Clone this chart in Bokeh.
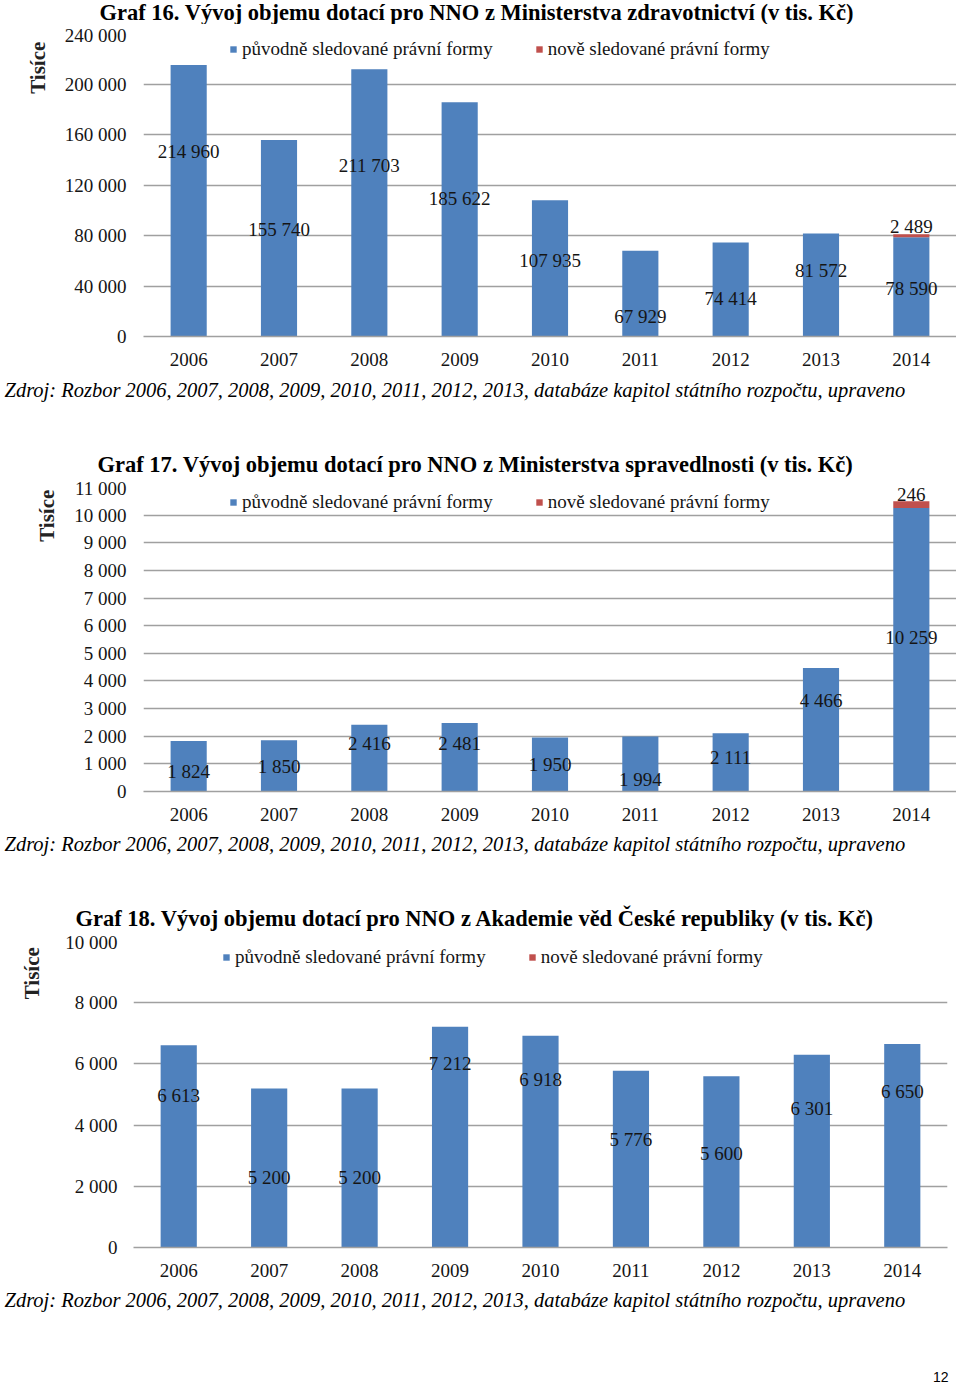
import math
from bokeh.plotting import figure
from bokeh.models import (ColumnDataSource, FactorRange, Range1d, FixedTicker,
                          Label, Legend, LegendItem)
from bokeh.layouts import column, row
from bokeh.core.properties import value
from bokeh.embed import file_html
from bokeh.resources import INLINE

# ---------------- data ----------------
years = ["2006", "2007", "2008", "2009", "2010", "2011", "2012", "2013", "2014"]
series_names = ["původně sledované právní formy", "nově sledované právní formy"]
source_note = ("Zdroj: Rozbor 2006, 2007, 2008, 2009, 2010, 2011, 2012, 2013, "
               "databáze kapitol státního rozpočtu, upraveno")
axis_title = "Tisíce"
page_number = "12"

title16 = "Graf 16. Vývoj objemu dotací pro NNO z Ministerstva zdravotnictví (v tis. Kč)"
orig16 = [214960, 155740, 211703, 185622, 107935, 67929, 74414, 81572, 78590]
new16 = [0, 0, 0, 0, 0, 0, 0, 0, 2489]
yticks16 = [0, 40000, 80000, 120000, 160000, 200000, 240000]
ytick_labels16 = ["0", "40 000", "80 000", "120 000", "160 000", "200 000", "240 000"]
# heights at which the data labels sit in the original picture (data units)
label_y16 = [146500, 84800, 135400, 109300, 60200, 15800, 30100, 52300, 38000]
new_label_y16 = [0, 0, 0, 0, 0, 0, 0, 0, 87100]

title17 = "Graf 17. Vývoj objemu dotací pro NNO z Ministerstva spravedlnosti (v tis. Kč)"
orig17 = [1824, 1850, 2416, 2481, 1950, 1994, 2111, 4466, 10259]
new17 = [0, 0, 0, 0, 0, 0, 0, 0, 246]
yticks17 = [0, 1000, 2000, 3000, 4000, 5000, 6000, 7000, 8000, 9000, 10000, 11000]
ytick_labels17 = ["0", "1 000", "2 000", "3 000", "4 000", "5 000", "6 000",
                  "7 000", "8 000", "9 000", "10 000", "11 000"]
label_y17 = [720, 920, 1730, 1730, 990, 450, 1225, 3310, 5580]
new_label_y17 = [0, 0, 0, 0, 0, 0, 0, 0, 10747]

title18 = "Graf 18. Vývoj objemu dotací pro NNO z  Akademie věd České republiky (v tis. Kč)"
orig18 = [6613, 5200, 5200, 7212, 6918, 5776, 5600, 6301, 6650]
new18 = [0, 0, 0, 0, 0, 0, 0, 0, 0]
yticks18 = [0, 2000, 4000, 6000, 8000, 10000]
ytick_labels18 = ["0", "2 000", "4 000", "6 000", "8 000", "10 000"]
label_y18 = [4967, 2297, 2297, 6003, 5480, 3520, 3062, 4533, 5098]
new_label_y18 = [0, 0, 0, 0, 0, 0, 0, 0, 0]

# ---------------- style ----------------
BLUE = "#4F81BD"
RED = "#C0504D"
GRID = "#a0a0a0"
TXT = "#151515"
SERIF = "Liberation Serif"
SANS = "Liberation Sans"
PAGE_W = 956
SIDE_W = 58


def fmt(v):
    return f"{v:,}".replace(",", " ")


def blank(width, height):
    p = figure(width=width, height=height, x_range=Range1d(0, width),
               y_range=Range1d(height, 0), x_axis_type=None, y_axis_type=None,
               min_border=0, toolbar_location=None, output_backend="svg",
               title_location=None)
    p.outline_line_color = None
    p.background_fill_color = "white"
    p.border_fill_color = "white"
    return p


def text_strip(top, bottom, texts):
    # texts: (page_x, page_middle_y, text, size, style, align, font)
    p = blank(PAGE_W, bottom - top)
    for (x, y, t, size, style, align, font) in texts:
        p.add_layout(Label(x=x, y=y - top, text=t, text_font=font,
                           text_font_size=size, text_font_style=style,
                           text_align=align, text_baseline="middle",
                           text_color="#000000"))
    return p


def side_strip(top, bottom, cx, cy):
    p = blank(SIDE_W, bottom - top)
    p.add_layout(Label(x=cx, y=cy - top, text=axis_title, text_font=SERIF,
                       text_font_size="21px", text_font_style="bold",
                       text_align="center", text_baseline="middle",
                       angle=math.pi / 2, text_color="#222222"))
    return p


def chart(orig, new, yticks, ytick_labels, label_y, new_label_y, g):
    fl, ft, fr, fb = g["fl"], g["ft"], g["fr"], g["fb"]
    p = figure(x_range=FactorRange(factors=years),
               y_range=Range1d(yticks[0], yticks[-1]),
               frame_width=fr - fl, frame_height=fb - ft,
               min_border_left=fl - SIDE_W, min_border_right=PAGE_W - fr,
               min_border_top=ft - g["top"], min_border_bottom=g["bottom"] - fb,
               toolbar_location=None, output_backend="svg", title_location=None)
    p.outline_line_color = None
    p.background_fill_color = "white"
    p.border_fill_color = "white"

    src = ColumnDataSource(dict(year=years, orig=orig, new=new,
                                top=[o + n for o, n in zip(orig, new)]))
    r1 = p.vbar(x="year", top="orig", bottom=0, width=0.4, source=src,
                fill_color=BLUE, line_color=None)
    r2 = p.vbar(x="year", bottom="orig", top="top", width=0.4, source=src,
                fill_color=RED, line_color=None)

    lab = ColumnDataSource(dict(year=years, y=label_y, text=[fmt(v) for v in orig]))
    p.text(x="year", y="y", text="text", source=lab, text_align="center",
           text_baseline="middle", text_font=value(SERIF), text_font_size="19px",
           text_color=TXT)
    idx = [i for i, n in enumerate(new) if n > 0]
    if idx:
        lab2 = ColumnDataSource(dict(year=[years[i] for i in idx],
                                     y=[new_label_y[i] for i in idx],
                                     text=[fmt(new[i]) for i in idx]))
        p.text(x="year", y="y", text="text", source=lab2, text_align="center",
               text_baseline="middle", text_font=value(SERIF), text_font_size="19px",
               text_color=TXT)

    p.xgrid.grid_line_color = None
    p.ygrid.ticker = FixedTicker(ticks=yticks)
    p.ygrid.grid_line_color = GRID
    p.ygrid.grid_line_width = 1.3
    ya = p.yaxis[0]
    ya.ticker = FixedTicker(ticks=yticks)
    ya.major_label_overrides = {t: s for t, s in zip(yticks, ytick_labels)}
    ya.axis_line_color = None
    ya.major_tick_line_color = None
    ya.minor_tick_line_color = None
    ya.major_tick_out = 0
    ya.major_tick_in = 0
    ya.major_label_standoff = g["ystand"]
    ya.major_label_text_font = SERIF
    ya.major_label_text_font_size = "19px"
    ya.major_label_text_color = TXT
    xa = p.xaxis[0]
    xa.axis_line_color = GRID
    xa.axis_line_width = 1.3
    xa.major_tick_line_color = None
    xa.minor_tick_line_color = None
    xa.major_tick_out = 0
    xa.major_tick_in = 0
    xa.major_label_standoff = 16
    xa.major_label_text_font = SERIF
    xa.major_label_text_font_size = "19px"
    xa.major_label_text_color = TXT

    leg = Legend(items=[LegendItem(label=series_names[0], renderers=[r1]),
                        LegendItem(label=series_names[1], renderers=[r2])],
                 orientation="horizontal",
                 location=(g["leg_x"] - fl, fb - (g["leg_y"] + 11)),
                 glyph_width=8, glyph_height=8, label_standoff=5, spacing=42,
                 padding=0, margin=0, border_line_color=None,
                 background_fill_alpha=0, label_height=18,
                 label_text_font=SERIF, label_text_font_size="19px",
                 label_text_color=TXT)
    p.add_layout(leg)
    return p


# layout geometry (page pixels)
g16 = dict(top=24, bottom=378, fl=143, ft=33, fr=956, fb=336, ystand=17, leg_x=229, leg_y=49)
g17 = dict(top=477, bottom=832, fl=143, ft=487, fr=956, fb=791, ystand=17, leg_x=229, leg_y=502)
g18 = dict(top=931, bottom=1288, fl=133, ft=941, fr=947, fb=1247, ystand=16, leg_x=222, leg_y=957)

TS = "22.5px"
SS = "20.5px"
s1 = text_strip(0, 24, [(99, 12, title16, TS, "bold", "left", SERIF)])
c16 = chart(orig16, new16, yticks16, ytick_labels16, label_y16, new_label_y16, g16)
t16 = side_strip(24, 378, 37, 64)
s2 = text_strip(378, 477, [(4, 389.7, source_note, SS, "italic", "left", SERIF),
                           (97, 463.8, title17, TS, "bold", "left", SERIF)])
c17 = chart(orig17, new17, yticks17, ytick_labels17, label_y17, new_label_y17, g17)
t17 = side_strip(477, 832, 46, 510)
s3 = text_strip(832, 931, [(4, 843.9, source_note, SS, "italic", "left", SERIF),
                           (75, 918.1, title18, TS, "bold", "left", SERIF)])
c18 = chart(orig18, new18, yticks18, ytick_labels18, label_y18, new_label_y18, g18)
t18 = side_strip(931, 1288, 31, 968)
s4 = text_strip(1288, 1384, [(4, 1299.6, source_note, SS, "italic", "left", SERIF),
                             (948, 1376, page_number, "14px", "normal", "right", SANS)])

layout = column(s1, row(t16, c16, spacing=0), s2, row(t17, c17, spacing=0),
                s3, row(t18, c18, spacing=0), s4, spacing=0)
open("out.html", "w").write(file_html(layout, INLINE))
